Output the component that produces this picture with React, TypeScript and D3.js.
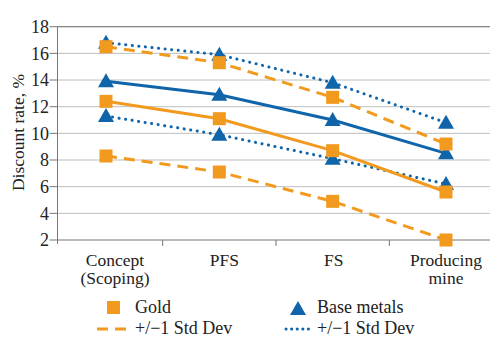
import React from "react";
import * as d3 from "d3";

const categories = ["Concept|(Scoping)", "PFS", "FS", "Producing|mine"];
const goldMean = [12.4, 11.1, 8.7, 5.6];
const goldPlus = [16.5, 15.3, 12.7, 9.2];
const goldMinus = [8.3, 7.1, 4.9, 2.0];
const baseMean = [13.9, 12.9, 11.0, 8.5];
const basePlus = [16.8, 15.9, 13.8, 10.8];
const baseMinus = [11.3, 9.9, 8.1, 6.2];
const yTicks = [2, 4, 6, 8, 10, 12, 14, 16, 18];

const ORANGE = "#F29A1E";
const BLUE = "#0F64AA";
const FONT = "'Liberation Serif', 'DejaVu Serif', serif";

export default function App() {
  const W = 503, H = 347;
  const left = 57.5, right = 490, top = 26.7, bottom = 240;
  const x = d3.scalePoint<string>().domain(categories).range([106, 446]);
  const y = d3.scaleLinear().domain([2, 18]).range([bottom, top]);
  const line = d3
    .line<number>()
    .x((_, i) => x(categories[i])!)
    .y((d) => y(d));

  const tri = (cx: number, cy: number, s = 8) =>
    `M${cx},${cy - s}L${cx + s},${cy + s * 0.75}L${cx - s},${cy + s * 0.75}Z`;
  const sq = 13;

  const dividers = categories.slice(0, -1).map((c, i) => (x(c)! + x(categories[i + 1])!) / 2);
  const labelOffset = (c: string) => (c.startsWith("Concept") ? 9 : c === "PFS" ? 5 : c === "FS" ? 1 : 0);

  return (
    <svg width={W} height={H} style={{ position: "absolute", left: 0, top: 0, background: "#fff" }} fontFamily={FONT}>
      {yTicks.map((t) => (
        <g key={t}>
          {t > 2 && <line x1={left} x2={right} y1={y(t)} y2={y(t)} stroke="#BEBEBE" strokeWidth={1} />}
          <line x1={left - 8} x2={left} y1={y(t)} y2={y(t)} stroke="#777" />
          <text x={left - 8.5} y={y(t)} dy="0.35em" textAnchor="end" fontSize={18} fill="#222">
            {t}
          </text>
        </g>
      ))}
      <line x1={left} x2={right} y1={top} y2={top} stroke="#777" strokeWidth={1} />
      <line x1={left} x2={left} y1={top} y2={bottom + 4} stroke="#777" strokeWidth={1} />
      <line x1={left} x2={right} y1={bottom} y2={bottom} stroke="#777" strokeWidth={1} />
      {dividers.map((d, i) => (
        <line key={i} x1={d} x2={d} y1={bottom} y2={bottom + 6} stroke="#777" />
      ))}
      <text
        transform={`translate(18,${(68 + 197) / 2}) rotate(-90)`}
        textAnchor="middle"
        dy="0.35em"
        fontSize={17.5}
        fill="#222"
      >
        Discount rate, %
      </text>
      {categories.map((c) => {
        const parts = c.split("|");
        const cx = x(c)! + labelOffset(c);
        return (
          <text key={c} x={cx} y={266} textAnchor="middle" fontSize={17.5} fill="#222">
            {parts.map((p, i) => (
              <tspan key={i} x={cx} dy={i === 0 ? 0 : 18}>
                {p}
              </tspan>
            ))}
          </text>
        );
      })}

      {/* Base metals */}
      <path d={line(basePlus)!} fill="none" stroke={BLUE} strokeWidth={3} strokeDasharray="0.1 6.5" strokeLinecap="round" />
      <path d={line(baseMinus)!} fill="none" stroke={BLUE} strokeWidth={3} strokeDasharray="0.1 6.5" strokeLinecap="round" />
      <path d={line(baseMean)!} fill="none" stroke={BLUE} strokeWidth={3} />
      {[basePlus, baseMean, baseMinus].map((s, k) =>
        s.map((v, i) => <path key={`b${k}-${i}`} d={tri(x(categories[i])!, y(v))} fill={BLUE} />)
      )}

      {/* Gold */}
      <path d={line(goldPlus)!} fill="none" stroke={ORANGE} strokeWidth={3} strokeDasharray="11 7" />
      <path d={line(goldMinus)!} fill="none" stroke={ORANGE} strokeWidth={3} strokeDasharray="11 7" />
      <path d={line(goldMean)!} fill="none" stroke={ORANGE} strokeWidth={3} />
      {[goldPlus, goldMean, goldMinus].map((s, k) =>
        s.map((v, i) => (
          <rect key={`g${k}-${i}`} x={x(categories[i])! - sq / 2} y={y(v) - sq / 2} width={sq} height={sq} fill={ORANGE} />
        ))
      )}

      {/* Legend */}
      <rect x={107} y={301} width={13} height={13} fill={ORANGE} />
      <text x={135} y={313} fontSize={18} fill="#222">Gold</text>
      <path d={tri(298, 309)} fill={BLUE} />
      <text x={317} y={313} fontSize={18} fill="#222">Base metals</text>
      <line x1={97} x2={128} y1={329} y2={329} stroke={ORANGE} strokeWidth={3} strokeDasharray="11 7" />
      <text x={135} y={334} fontSize={18} fill="#222">+/−1 Std Dev</text>
      <line x1={286} x2={313} y1={329} y2={329} stroke={BLUE} strokeWidth={3} strokeDasharray="0.1 5.5" strokeLinecap="round" />
      <text x={317} y={334} fontSize={18} fill="#222">+/−1 Std Dev</text>
    </svg>
  );
}
